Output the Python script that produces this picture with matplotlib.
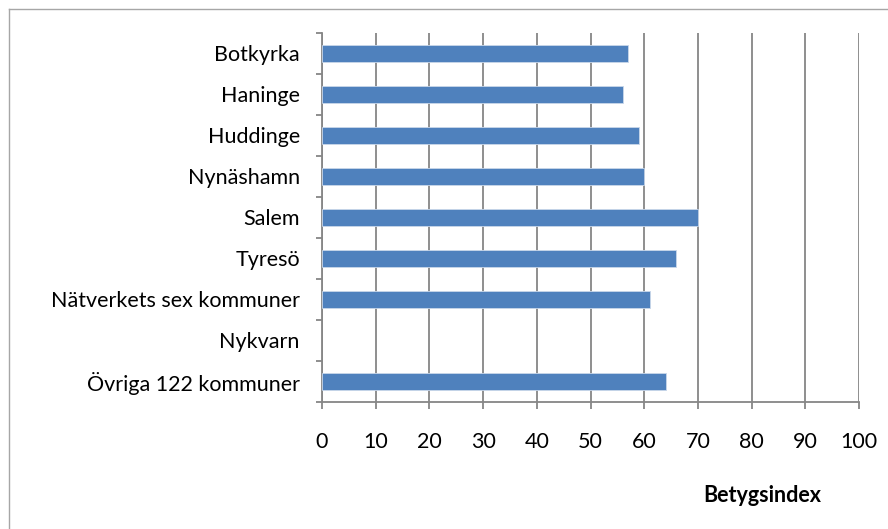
import matplotlib.pyplot as plt
from matplotlib.lines import Line2D

categories = ["Botkyrka", "Haninge", "Huddinge", "Nynäshamn", "Salem", "Tyresö",
              "Nätverkets sex kommuner", "Nykvarn", "Övriga 122 kommuner"]
values = [57, 56, 59, 60, 70, 66, 61, None, 64]
xticks = list(range(0, 101, 10))

plt.rcParams["font.family"] = ["Lato", "DejaVu Sans"]
fs = 15.5

fig = plt.figure(figsize=(8.88, 5.29), dpi=100)
ax = fig.add_axes([322 / 888, 1 - 401.7 / 529, (859 - 322) / 888, (401.7 - 33) / 529])

# categories top-to-bottom
pos = list(range(len(categories)))[::-1]
for p, v in zip(pos, values):
    if v is not None:
        ax.barh(p, v, height=0.41, color="#4F81BD", edgecolor="#c9d7ea", linewidth=0.6, zorder=3)

ax.set_xlim(0, 100)
ax.set_ylim(-0.5, len(categories) - 0.5)
ax.set_xticks(xticks)
ax.set_xticklabels([str(t) for t in xticks], fontsize=fs)
ax.set_yticks(pos)
ax.set_yticklabels(categories, fontsize=fs)
ax.set_yticks([p - 0.5 for p in range(len(categories) + 1)], minor=True)

ax.grid(axis="x", color="#868686", linewidth=1.3, zorder=1)
ax.tick_params(axis="y", which="major", length=0, pad=16)
ax.tick_params(axis="y", which="minor", length=4.5, width=1.3, color="#868686")
ax.tick_params(axis="x", length=5, width=1.3, color="#868686", pad=16.5)

for s in ["top", "right"]:
    ax.spines[s].set_visible(False)
for s in ["left", "bottom"]:
    ax.spines[s].set_color("#868686")
    ax.spines[s].set_linewidth(1.3)

fig.text(762 / 888, 1 - 495 / 529, "Betygsindex", fontsize=fs, fontweight="bold",
         ha="center", va="center")

# outer chart frame
fig.add_artist(Line2D([8.5 / 888, 8.5 / 888], [1 - 8.5 / 529, 0], transform=fig.transFigure,
                      color="#a6a6a6", linewidth=1.0))
fig.add_artist(Line2D([8.5 / 888, 1], [1 - 8.5 / 529, 1 - 8.5 / 529], transform=fig.transFigure,
                      color="#a6a6a6", linewidth=1.0))

fig.savefig("out.png", dpi=100)
